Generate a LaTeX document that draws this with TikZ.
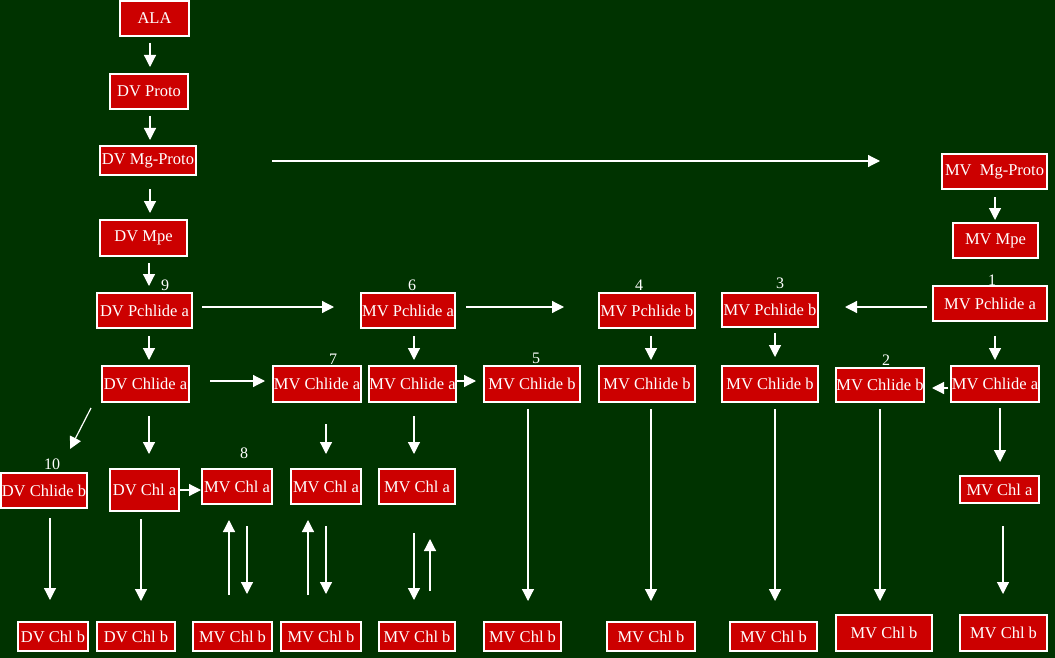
\documentclass[tikz,border=0pt]{standalone}
\usepackage{fontspec}
\setmainfont{Liberation Serif}
\usetikzlibrary{arrows.meta,calc}
\definecolor{bggreen}{RGB}{0,51,0}
\definecolor{boxred}{RGB}{204,0,0}
\newcommand\bx[6]{\node[box, minimum width={#4pt-#2pt-2pt}, minimum height={#5pt-#3pt-2pt}] (#1) at ({(#2+#4)/2},{(#3+#5)/2}) {#6};}
\begin{document}
\begin{tikzpicture}[x=1pt,y=-1pt,
  box/.style={draw=white, line width=2pt, fill=boxred, text=white, inner sep=0pt, outer sep=0pt,
    font=\fontsize{16.5}{18}\selectfont},
  num/.style={text=white, inner sep=0pt, font=\fontsize{16}{17}\selectfont},
  arr/.style={draw=white, line width=1.2pt, -{Triangle[width=12pt,length=12pt]}}]
\fill[bggreen] (0,0) rectangle (1055,658);
\useasboundingbox (0,0) rectangle (1055,658);
% boxes
\bx{ala}{119}{0}{190}{37}{ALA}
\bx{dvproto}{109}{73}{189}{110}{DV Proto}
\bx{dvmgproto}{99}{145}{197}{176}{DV Mg-Proto}
\bx{dvmpe}{99}{219}{188}{257}{DV Mpe}
\bx{dvpchl}{96}{292}{193}{329}{DV Pchlide a}
\bx{dvchlidea}{101}{365}{190}{403}{DV Chlide a}
\bx{dvchlideb}{0}{472}{88}{509}{DV Chlide b}
\bx{dvchla}{109}{468}{180}{512}{DV Chl a}
\bx{dvchlbA}{17}{621}{89}{652}{DV Chl b}
\bx{dvchlbB}{96}{621}{176}{652}{DV Chl b}
\bx{mvchlaE}{201}{468}{273}{505}{MV Chl a}
\bx{mvchlbE}{192}{621}{273}{652}{MV Chl b}
\bx{mvchlideaG}{272}{365}{362}{403}{MV Chlide a}
\bx{mvchlaG}{290}{468}{362}{505}{MV Chl a}
\bx{mvchlbG}{280}{621}{362}{652}{MV Chl b}
\bx{mvpchlaF}{360}{292}{456}{329}{MV Pchlide a}
\bx{mvchlideaF}{369}{365}{456}{403}{MV Chlide a}
\bx{mvchlaF}{378}{468}{456}{505}{MV Chl a}
\bx{mvchlbF}{378}{621}{456}{652}{MV Chl b}
\bx{mvchlidebV}{483}{365}{581}{403}{MV Chlide b}
\bx{mvchlbV}{483}{621}{562}{652}{MV Chl b}
\bx{mvpchlbD}{598}{292}{696}{329}{MV Pchlide b}
\bx{mvchlidebD}{598}{365}{696}{403}{MV Chlide b}
\bx{mvchlbD}{606}{621}{696}{652}{MV Chl b}
\bx{mvpchlbC}{721}{292}{819}{328}{MV Pchlide b}
\bx{mvchlidebC}{721}{365}{819}{403}{MV Chlide b}
\bx{mvchlbC}{729}{621}{818}{652}{MV Chl b}
\bx{mvchlidebB}{835}{367}{925}{403}{MV Chlide b}
\bx{mvchlbB}{835}{614}{933}{652}{MV Chl b}
\bx{mvmgproto}{941}{153}{1048}{190}{MV\ \ Mg-Proto}
\bx{mvmpe}{952}{222}{1039}{259}{MV Mpe}
\bx{mvpchlaA}{932}{285}{1048}{322}{MV Pchlide a}
\bx{mvchlideaA}{950}{365}{1040}{403}{MV Chlide a}
\bx{mvchlaA}{959}{475}{1040}{504}{MV Chl a}
\bx{mvchlbA}{959}{614}{1048}{652}{MV Chl b}
% numbers
\node[num] (n9) at (165,285) {9};
\node[num] (n6) at (412,285) {6};
\node[num] (n4) at (639,285) {4};
\node[num] (n3) at (780,283) {3};
\node[num] (n1) at (992,280) {1};
\node[num] (n7) at (333,359) {7};
\node[num] (n5) at (536,358) {5};
\node[num] (n2) at (886,360) {2};
\node[num] (n8) at (244,453) {8};
\node[num] (n10) at (52,464) {10};
% arrows: left column
\draw[arr, shorten <=7, shorten >=7] (ala.south -| 150,0) -- (dvproto.north -| 150,0);
\draw[arr, shorten <=7, shorten >=6] (dvproto.south -| 150,0) -- (dvmgproto.north -| 150,0);
\draw[arr, shorten <=14, shorten >=7] (dvmgproto.south -| 150,0) -- (dvmpe.north -| 150,0);
\draw[arr, shorten <=7, shorten >=7] (dvmpe.south -| 149,0) -- (dvpchl.north -| 149,0);
\draw[arr, shorten <=76, shorten >=62] (dvmgproto.east |- 0,161) -- (mvmgproto.west |- 0,161);
\draw[arr, shorten <=8, shorten >=3] (mvmgproto.south -| 995,0) -- (mvmpe.north -| 995,0);
% Pchlide row
\draw[arr, shorten <=10, shorten >=27] (dvpchl.east |- 0,307) -- (mvpchlaF.west |- 0,307);
\draw[arr, shorten <=11, shorten >=35] (mvpchlaF.east |- 0,307) -- (mvpchlbD.west |- 0,307);
\draw[arr, shorten <=6, shorten >=27] (mvpchlaA.west |- 0,307) -- (mvpchlbC.east |- 0,307);
\draw[arr, shorten <=8, shorten >=6] (dvpchl.south -| 149,0) -- (dvchlidea.north -| 149,0);
\draw[arr, shorten <=8, shorten >=6] (mvpchlaF.south -| 414,0) -- (mvchlideaF.north -| 414,0);
\draw[arr, shorten <=8, shorten >=6] (mvpchlbD.south -| 651,0) -- (mvchlidebD.north -| 651,0);
\draw[arr, shorten <=6, shorten >=9] (mvpchlbC.south -| 775,0) -- (mvchlidebC.north -| 775,0);
\draw[arr, shorten <=15, shorten >=6] (mvpchlaA.south -| 995,0) -- (mvchlideaA.north -| 995,0);
% Chlide row
\draw[arr, shorten <=21, shorten >=8] (dvchlidea.east |- 0,381) -- (mvchlideaG.west |- 0,381);
\draw[arr, shorten >=8] (mvchlideaF.east |- 0,381) -- (mvchlidebV.west |- 0,381);
\draw[arr, shorten <=3, shorten >=8] (mvchlideaA.west |- 0,388) -- (mvchlidebB.east |- 0,388);
\draw[arr] ($(dvchlidea.south west)+(-11,6)$) -- ($(dvchlideb.north)+(26,-24)$);
\draw[arr, shorten <=14, shorten >=15] (dvchlidea.south -| 149,0) -- (dvchla.north -| 149,0);
\draw[arr, shorten <=22, shorten >=15] (mvchlideaG.south -| 326,0) -- (mvchlaG.north -| 326,0);
\draw[arr, shorten <=14, shorten >=15] (mvchlideaF.south -| 414,0) -- (mvchlaF.north -| 414,0);
\draw[arr, shorten <=6, shorten >=14] (mvchlideaA.south -| 1000,0) -- (mvchlaA.north -| 1000,0);
% Chl a row
\draw[arr, shorten >=1] (dvchla.east |- 0,490) -- (mvchlaE.west |- 0,490);
\draw[arr, shorten <=10, shorten >=22] (dvchlideb.south -| 50,0) -- (dvchlbA.north -| 50,0);
\draw[arr, shorten <=8, shorten >=21] (dvchla.south -| 141,0) -- (dvchlbB.north -| 141,0);
\draw[arr, shorten <=27, shorten >=16] (mvchlbE.north -| 229,0) -- (mvchlaE.south -| 229,0);
\draw[arr, shorten <=22, shorten >=28] (mvchlaE.south -| 247,0) -- (mvchlbE.north -| 247,0);
\draw[arr, shorten <=27, shorten >=16] (mvchlbG.north -| 308,0) -- (mvchlaG.south -| 308,0);
\draw[arr, shorten <=22, shorten >=28] (mvchlaG.south -| 326,0) -- (mvchlbG.north -| 326,0);
\draw[arr, shorten <=29, shorten >=22] (mvchlaF.south -| 414,0) -- (mvchlbF.north -| 414,0);
\draw[arr, shorten <=31, shorten >=35] (mvchlbF.north -| 430,0) -- (mvchlaF.south -| 430,0);
\draw[arr, shorten <=7, shorten >=21] (mvchlidebV.south -| 528,0) -- (mvchlbV.north -| 528,0);
\draw[arr, shorten <=7, shorten >=21] (mvchlidebD.south -| 651,0) -- (mvchlbD.north -| 651,0);
\draw[arr, shorten <=7, shorten >=21] (mvchlidebC.south -| 775,0) -- (mvchlbC.north -| 775,0);
\draw[arr, shorten <=7, shorten >=14] (mvchlidebB.south -| 880,0) -- (mvchlbB.north -| 880,0);
\draw[arr, shorten <=23, shorten >=21] (mvchlaA.south -| 1003,0) -- (mvchlbA.north -| 1003,0);
\end{tikzpicture}
\end{document}
